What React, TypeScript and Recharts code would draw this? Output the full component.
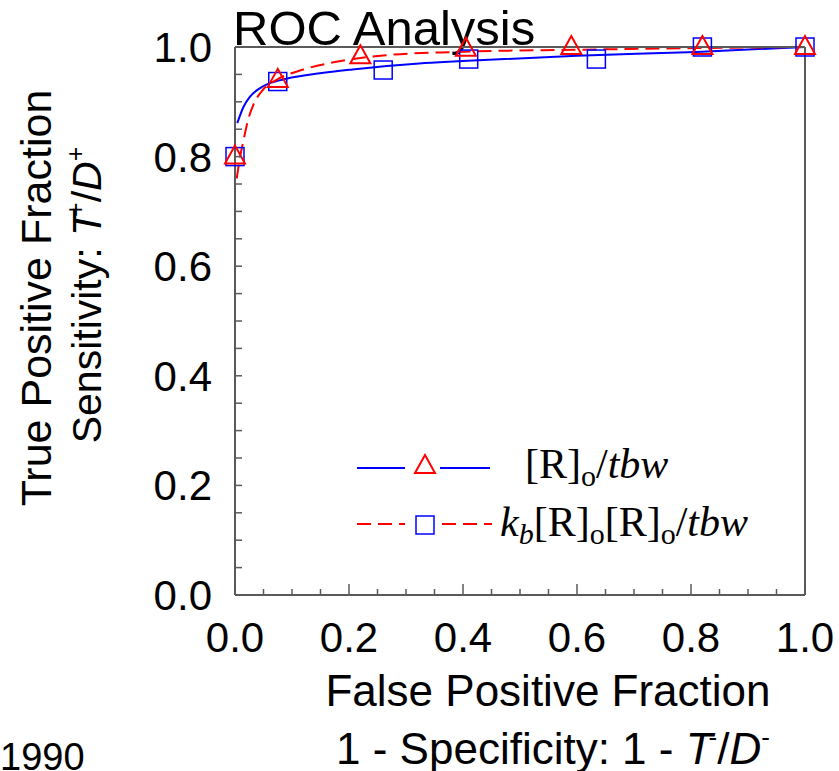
import { ComposedChart, Customized, Line, Scatter, XAxis, YAxis } from "recharts";

// fitted curves
const solidFit = [
  { x: 0.004, y: 0.861 },
  { x: 0.015, y: 0.891 },
  { x: 0.026, y: 0.909 },
  { x: 0.044, y: 0.925 },
  { x: 0.061, y: 0.934 },
  { x: 0.09, y: 0.942 },
  { x: 0.149, y: 0.952 },
  { x: 0.206, y: 0.959 },
  { x: 0.323, y: 0.97 },
  { x: 0.39, y: 0.974 },
  { x: 0.6, y: 0.984 },
  { x: 0.81, y: 0.991 },
  { x: 1.0, y: 1.0 },
];

const dashedFit = [
  { x: 0.003, y: 0.76 },
  { x: 0.008, y: 0.794 },
  { x: 0.015, y: 0.83 },
  { x: 0.023, y: 0.867 },
  { x: 0.032, y: 0.894 },
  { x: 0.049, y: 0.922 },
  { x: 0.073, y: 0.94 },
  { x: 0.12, y: 0.959 },
  { x: 0.178, y: 0.973 },
  { x: 0.265, y: 0.985 },
  { x: 0.39, y: 0.991 },
  { x: 0.6, y: 0.995 },
  { x: 0.81, y: 0.998 },
  { x: 1.0, y: 1.0 },
];

// measured points
const trianglePoints = [
  { x: 0.0, y: 0.8 },
  { x: 0.075, y: 0.94 },
  { x: 0.22, y: 0.983 },
  { x: 0.405, y: 0.997 },
  { x: 0.59, y: 1.0 },
  { x: 0.82, y: 1.0 },
  { x: 1.0, y: 1.0 },
];

const squarePoints = [
  { x: 0.0, y: 0.8 },
  { x: 0.075, y: 0.937 },
  { x: 0.26, y: 0.958 },
  { x: 0.41, y: 0.978 },
  { x: 0.634, y: 0.978 },
  { x: 0.82, y: 1.0 },
  { x: 1.0, y: 1.0 },
];

const axisTicks = [
  0, 0.05, 0.1, 0.15, 0.2, 0.25, 0.3, 0.35, 0.4, 0.45, 0.5, 0.55, 0.6, 0.65, 0.7, 0.75, 0.8, 0.85, 0.9,
  0.95, 1.0,
];

const sans = '"Liberation Sans", Arial, sans-serif';
const serif = '"Liberation Serif", "Times New Roman", serif';
const axisColor = "#5a5a5a";
const blue = "#0000ff";
const red = "#ff0000";

const isMultiple = (v: number, step: number) => Math.abs(v / step - Math.round(v / step)) < 1e-6;

function BottomTick({ x, y, payload }: any) {
  const v = payload.value;
  const major = isMultiple(v, 0.2);
  return (
    <g>
      <line x1={x} x2={x} y1={y} y2={y - (major ? 11 : 6)} stroke={axisColor} strokeWidth={1.5} />
      {major && (
        <text x={x} y={y + 57} textAnchor="middle" fontSize={42} fontFamily={sans} fill="#000">
          {v.toFixed(1)}
        </text>
      )}
    </g>
  );
}

function TopTick({ x, y }: any) {
  return <line x1={x} x2={x} y1={y} y2={y + 6} stroke={axisColor} strokeWidth={1.5} />;
}

function LeftTick({ x, y, payload }: any) {
  const v = payload.value;
  const major = isMultiple(v, 0.2);
  return (
    <g>
      <line x1={x} x2={x + 7} y1={y} y2={y} stroke={axisColor} strokeWidth={1.5} />
      {major && (
        <text x={x - 23} y={y + 15} textAnchor="end" fontSize={42} fontFamily={sans} fill="#000">
          {v.toFixed(1)}
        </text>
      )}
    </g>
  );
}

function RightTick({ x, y, payload }: any) {
  const major = isMultiple(payload.value, 0.1);
  return <line x1={x} x2={x - (major ? 12 : 6)} y1={y} y2={y} stroke={axisColor} strokeWidth={1.5} />;
}

function Triangle({ cx, cy }: any) {
  return (
    <polygon
      points={`${cx},${cy - 11} ${cx - 10},${cy + 7} ${cx + 10},${cy + 7}`}
      fill="none"
      stroke={red}
      strokeWidth={2}
    />
  );
}

function Square({ cx, cy }: any) {
  return <rect x={cx - 9} y={cy - 9} width={18} height={18} fill="none" stroke={blue} strokeWidth={1.5} />;
}

function Overlay() {
  return (
    <g>
      <text x={233} y={45} fontSize={49} fontFamily={sans} fill="#000">
        ROC Analysis
      </text>

      {/* y title */}
      <text transform="rotate(-90, 51, 298)" x={51} y={298} textAnchor="middle" fontSize={43} fontFamily={sans} fill="#000">
        True Positive Fraction
      </text>
      <text transform="rotate(-90, 101, 295)" x={101} y={295} textAnchor="middle" fontSize={41} fontFamily={sans} fill="#000">
        Sensitivity:{" "}
        <tspan fontStyle="italic">T</tspan>
        <tspan fontSize={25} dy={-17} dx={-6}>+</tspan>
        <tspan dy={17}>/</tspan>
        <tspan fontStyle="italic">D</tspan>
        <tspan fontSize={25} dy={-17}>+</tspan>
      </text>

      {/* x title */}
      <text x={548} y={706} textAnchor="middle" fontSize={44} fontFamily={sans} fill="#000">
        False Positive Fraction
      </text>
      <text x={553} y={764} textAnchor="middle" fontSize={44} fontFamily={sans} fill="#000">
        1 - Specificity: 1 -{" "}
        <tspan fontStyle="italic">T</tspan>
        <tspan fontSize={26} dy={-18} dx={-4}>-</tspan>
        <tspan dy={18}>/</tspan>
        <tspan fontStyle="italic">D</tspan>
        <tspan fontSize={26} dy={-18}>-</tspan>
      </text>

      <text x={0} y={770} fontSize={38} fontFamily={sans} fill="#000">
        1990
      </text>

      {/* legend */}
      <line x1={357} x2={405} y1={468} y2={468} stroke={blue} strokeWidth={2} />
      <line x1={440} x2={490} y1={468} y2={468} stroke={blue} strokeWidth={2} />
      <Triangle cx={425} cy={466} />
      <text x={525} y={478} fontSize={42} fontFamily={serif} fill="#000">
        [R]<tspan fontSize={30} dy={8}>o</tspan>
        <tspan dy={-8}>/</tspan>
        <tspan fontStyle="italic">tbw</tspan>
      </text>

      <line x1={357} x2={405} y1={524} y2={524} stroke={red} strokeWidth={2} strokeDasharray="14 7" />
      <line x1={442} x2={492} y1={524} y2={524} stroke={red} strokeWidth={2} strokeDasharray="14 7" />
      <Square cx={425} cy={525} />
      <text x={500} y={536} fontSize={42} fontFamily={serif} fill="#000">
        <tspan fontStyle="italic">k</tspan>
        <tspan fontStyle="italic" fontSize={30} dy={8}>b</tspan>
        <tspan dy={-8}>[R]</tspan>
        <tspan fontSize={30} dy={8}>o</tspan>
        <tspan dy={-8}>[R]</tspan>
        <tspan fontSize={30} dy={8}>o</tspan>
        <tspan dy={-8}>/</tspan>
        <tspan fontStyle="italic">tbw</tspan>
      </text>
    </g>
  );
}

export default function App() {
  return (
    <div style={{ position: "absolute", left: 0, top: 0, width: 839, height: 771, background: "#fff" }}>
      <ComposedChart width={839} height={771} margin={{ top: 17, right: 0, bottom: 0, left: 0 }}>
        <XAxis
          dataKey="x"
          type="number"
          domain={[0, 1]}
          ticks={axisTicks}
          interval={0}
          height={176}
          tickSize={0}
          tickMargin={0}
          tickLine={false}
          tick={BottomTick}
          axisLine={{ stroke: axisColor, strokeWidth: 2 }}
        />
        <XAxis
          xAxisId="top"
          orientation="top"
          dataKey="x"
          type="number"
          domain={[0, 1]}
          ticks={axisTicks}
          interval={0}
          height={30}
          tickSize={0}
          tickMargin={0}
          tickLine={false}
          tick={TopTick}
          axisLine={{ stroke: axisColor, strokeWidth: 2 }}
        />
        <YAxis
          dataKey="y"
          type="number"
          domain={[0, 1]}
          ticks={axisTicks}
          interval={0}
          width={235}
          tickSize={0}
          tickMargin={0}
          tickLine={false}
          tick={LeftTick}
          axisLine={{ stroke: axisColor, strokeWidth: 2 }}
        />
        <YAxis
          yAxisId="right"
          orientation="right"
          dataKey="y"
          type="number"
          domain={[0, 1]}
          ticks={axisTicks}
          interval={0}
          width={34}
          tickSize={0}
          tickMargin={0}
          tickLine={false}
          tick={RightTick}
          axisLine={{ stroke: axisColor, strokeWidth: 2 }}
        />
        <Line
          data={solidFit}
          dataKey="y"
          type="monotone"
          stroke={blue}
          strokeWidth={2}
          dot={false}
          activeDot={false}
          isAnimationActive={false}
        />
        <Line
          data={dashedFit}
          dataKey="y"
          type="monotone"
          stroke={red}
          strokeWidth={2}
          strokeDasharray="14 7"
          dot={false}
          activeDot={false}
          isAnimationActive={false}
        />
        <Scatter data={squarePoints} dataKey="y" shape={Square} isAnimationActive={false} />
        <Scatter data={trianglePoints} dataKey="y" shape={Triangle} isAnimationActive={false} />
        <Customized component={Overlay} />
      </ComposedChart>
    </div>
  );
}
